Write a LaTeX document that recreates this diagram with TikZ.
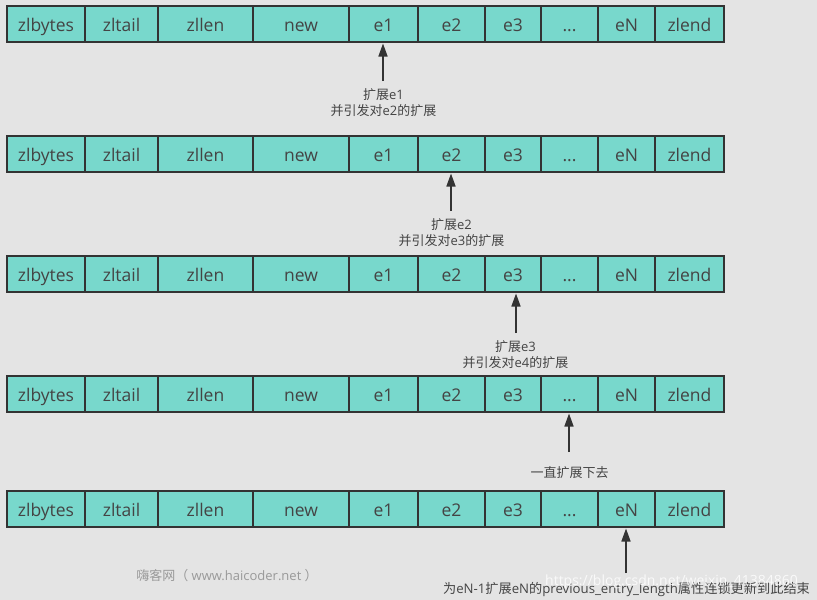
\documentclass[tikz,border=0pt]{standalone}
\usepackage{fontspec}
\usetikzlibrary{arrows.meta}
\setmainfont{Open Sans}
\newfontfamily\cjk{Noto Sans CJK SC}
\definecolor{cellfill}{HTML}{78D8CC}
\definecolor{cellline}{HTML}{333333}
\definecolor{pagebg}{HTML}{E4E4E4}
\definecolor{labeltext}{HTML}{444444}
\newcommand{\celldots}{...}
\tikzset{
  cell/.style={draw=cellline,line width=1.6pt,fill=cellfill,text=labeltext,inner sep=0pt,outer sep=0pt,
    minimum height=36pt,text height=15pt,text depth=0pt,font=\fontsize{17.5}{20}\selectfont},
  note/.style={text=labeltext,align=center,inner sep=0pt,font=\fontsize{13}{16}\selectfont},
  pointer/.style={draw=cellline,line width=1.6pt,shorten >=1.5pt,-{Triangle[length=13pt,width=9pt]}},
}
\begin{document}
\begin{tikzpicture}[x=1pt,y=-1pt]
    \useasboundingbox (0,0) rectangle (817,600);
    \fill[pagebg] (0,0) rectangle (817,600);
    % the five identical rows
    \foreach \row/\y in {1/24,2/154,3/274,4/394,5/509} {
      \foreach \cn/\cx/\cw/\ct in {zlbytes/46/78/zlbytes,zltail/121.5/73/zltail,zllen/205.5/95/zllen,
          new/301/96/new,eone/383.5/69/e1,etwo/451.5/67/e2,ethree/513/56/e3,gap/569.5/57/\celldots,
          en/626.5/57/eN,zlend/689.5/69/zlend} {
        \node[cell,minimum width=\cw pt] (\cn\row) at (\cx,\y) {\ct};
      }
    }
    % free ends of the arrows
    \coordinate (a1) at (383,81);
    \coordinate (a2) at (451,211);
    \coordinate (a3) at (516,333);
    \coordinate (a4) at (569,452);
    \coordinate (a5) at (626,573);
    \draw[pointer] (a1) -- (a1 |- eone1.south);
    \draw[pointer] (a2) -- (a2 |- etwo2.south);
    \draw[pointer] (a3) -- (a3 |- ethree3.south);
    \draw[pointer] (a4) -- (a4 |- gap4.south);
    \draw[pointer] (a5) -- (a5 |- en5.south);
    \node[note] (n1) at (383.5,103) {{\cjk 扩展}e1\\{\cjk 并引发对}e2{\cjk 的扩展}};
    \node[note] (n2) at (451.5,232.5) {{\cjk 扩展}e2\\{\cjk 并引发对}e3{\cjk 的扩展}};
    \node[note] (n3) at (515.5,354.5) {{\cjk 扩展}e3\\{\cjk 并引发对}e4{\cjk 的扩展}};
    \node[note] (n4) at (569.5,472.5) {\cjk 一直扩展下去};
    \node[note,font=\fontsize{13.2}{16}\selectfont] (n5) at (626.5,589) {{\cjk 为}eN-1{\cjk 扩展}eN{\cjk 的}previous\_entry\_length{\cjk 属性连锁更新到此结束}};
    \node[note,text=white,opacity=.8,font=\fontsize{14}{16}\selectfont] (mark) at (671.5,582) {https://blog.csdn.net/weixin\_41384860};
    \node[note,text=black!40] (site) at (227,576) {{\cjk 嗨客网（} www.haicoder.net {\cjk ）}};
\end{tikzpicture}
\end{document}
